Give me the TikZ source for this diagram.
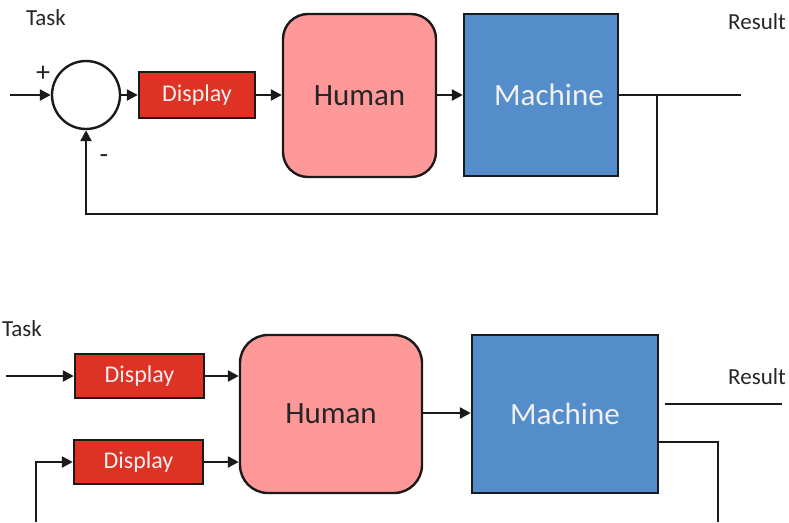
\documentclass[tikz,border=0pt]{standalone}
\usepackage{fontspec}
\setmainfont{Carlito}
\usetikzlibrary{arrows.meta}
\definecolor{dispred}{HTML}{DE3224}
\definecolor{humpink}{HTML}{FF9999}
\definecolor{machblue}{HTML}{558DCA}
\definecolor{ink}{HTML}{1A1A1A}
\definecolor{lbl}{HTML}{262626}
\begin{document}
\begin{tikzpicture}[x=1pt,y=-1pt,
  line width=2.4pt, draw=ink,
  >={Triangle[length=11pt,width=11pt]},
  box/.style={draw=ink, line width=2.4pt, inner sep=0pt},
  dispbox/.style={box, fill=dispred, text=white!94!black,
    font=\fontsize{24}{28}\selectfont},
  humanbox/.style={box, fill=humpink, text=lbl,
    font=\fontsize{31}{36}\selectfont},
  machbox/.style={box, fill=machblue, text=white!94!black,
    font=\fontsize{31}{36}\selectfont},
  machtext/.style={inner sep=0pt, text=white!94!black,
    font=\fontsize{31}{36}\selectfont},
  lab/.style={text=lbl, inner sep=0pt, font=\fontsize{23}{27}\selectfont},
  sign/.style={text=lbl, inner sep=0pt, font=\fontsize{28}{32}\selectfont},
  sumnode/.style={draw=ink, line width=2.4pt, circle, fill=white, inner sep=0pt, minimum size=68pt}
]
\useasboundingbox (0,0) rectangle (789,522);

% ---------- closed loop ----------
\node[sumnode] (sum) at (86,95) {};
\node[dispbox, minimum width=116pt, minimum height=46pt] (d1) at (197,95) {Display};
\node[humanbox, rounded corners=25pt, minimum width=153pt, minimum height=163pt] (h1) at (359.5,95.5) {Human};
\node[machbox, minimum width=154pt, minimum height=162pt] (m1) at (541,95) {};
\node[machtext] (m1t) at (549,95) {Machine};

\node[lab] (task1) at (46,18) {Task};
\node[lab] (res1) at (757,22) {Result};
\node[sign] (plus) at (43,74) {+};
\node[sign] (minus) at (104,159) {-};

\coordinate (in1) at (10,95);
\coordinate (tap1) at (657,95);
\coordinate (out1) at (741,95);
\coordinate (fb1) at (657,214);

\draw[->] (in1) -- (sum.west);
\draw[->] (sum.east) -- (d1.west);
\draw[->] (d1.east) -- (d1.east -| h1.west);
\draw[->] (h1.east |- m1.west) -- (m1.west);
\draw (m1.east) -- (out1);
\draw[->] (tap1) -- (fb1) -| (sum.south);

% ---------- two displays ----------
\node[dispbox, minimum width=129pt, minimum height=44pt] (d2) at (139.5,376) {Display};
\node[dispbox, minimum width=129pt, minimum height=44pt] (d3) at (138.5,462) {Display};
\node[humanbox, rounded corners=28pt, minimum width=182pt, minimum height=158pt] (h2) at (331,414) {Human};
\node[machbox, minimum width=186pt, minimum height=158pt] (m2) at (565,414) {Machine};

\node[lab] (task2) at (22,329) {Task};
\node[lab] (res2) at (757,377) {Result};

\coordinate (in2) at (6,376);
\coordinate (r1) at (665,404);
\coordinate (r2) at (782,404);
\coordinate (fbA) at (718,442);
\coordinate (fbB) at (718,522);
\coordinate (fbC) at (36,522);

\draw[->] (in2) -- (d2.west);
\draw[->] (d2.east) -- (d2.east -| h2.west);
\draw[->] (d3.east) -- (d3.east -| h2.west);
\draw[->] (h2.east |- 0,413) -- (m2.west |- 0,413);
\draw (r1) -- (r2);
\draw (m2.east |- fbA) -- (fbA) -- (fbB);
\draw[->] (fbC) |- (d3.west);
\end{tikzpicture}
\end{document}
